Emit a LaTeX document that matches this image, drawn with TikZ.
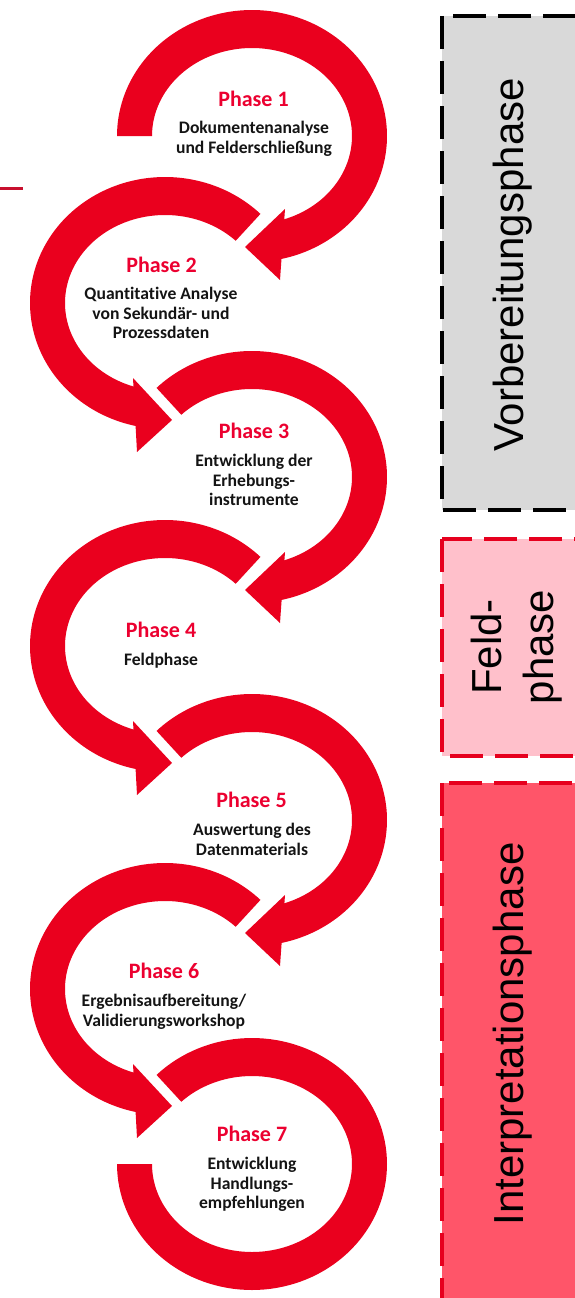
\documentclass[tikz,border=0pt]{standalone}
\usepackage{fontspec}
\newfontfamily\calib[Ligatures=NoCommon]{Carlito}
\newfontfamily\arialf{Liberation Sans}
\definecolor{ringred}{RGB}{234,0,30}
\definecolor{phasered}{RGB}{236,0,48}
\definecolor{bodyblack}{RGB}{20,20,20}
\definecolor{boxgray}{RGB}{217,217,217}
\definecolor{boxpink}{RGB}{255,192,203}
\definecolor{boxrose}{RGB}{255,85,105}
\definecolor{borderred}{RGB}{230,0,30}
\definecolor{linered}{RGB}{200,16,46}
% ring segment: cx, cy, start angle, outer end angle, inner end angle (y axis points down)
\newcommand{\ringseg}[5]{%
  \fill[ringred] plot[domain=#3:#4,samples=120,variable=\t] ({#1+135*cos(\t)},{#2+126*sin(\t)})
    -- plot[domain=#5:#3,samples=120,variable=\t] ({#1+100*cos(\t)},{#2+88*sin(\t)}) -- cycle;}
\newcommand{\ahead}[6]{\fill[ringred] (#1,#2) -- (#3,#4) -- (#5,#6) -- cycle;}
\begin{document}
\begin{tikzpicture}[x=1pt,y=-1pt,
  phaselbl/.style={font=\calib\bfseries\fontsize{22}{26}\selectfont, text=phasered, inner sep=0pt, anchor=base},
  bodytxt/.style={font=\calib\bfseries\fontsize{17.6}{19.5}\selectfont, text=bodyblack, inner sep=0pt, anchor=north, align=center},
  phasebox/.style={line width=3.2pt, dash pattern=on 33pt off 12pt},
  boxlbl/.style={font=\arialf\fontsize{42}{52}\selectfont, text=black, rotate=90, inner sep=0pt, align=center}]
\useasboundingbox (0,0) rectangle (574,1298);
\fill[white] (0,0) rectangle (574,1298);

% right-hand phase boxes
\fill[boxgray] (442,16) rectangle (600,510);
\draw[phasebox, black] (442,16) -- (442,510) -- (600,510) -- (600,16) -- cycle;
\fill[boxpink] (442,539) rectangle (600,756);
\draw[phasebox, borderred] (442,539) -- (442,756) -- (600,756) -- (600,539) -- cycle;
\fill[boxrose] (442,783) rectangle (600,1320);
\draw[phasebox, borderred] (442,783) -- (442,1320) -- (600,1320) -- (600,783) -- cycle;
\node[boxlbl] (vorb) at (513,265) {Vorbereitungsphase};
\node[boxlbl] (feld) at (517,647) {Feld-\\phase};
\node[boxlbl] (interp) at (513,1034) {Interpretationsphase};

% small red line at the left
\draw[linered, line width=2.7pt] (0,188.3) -- (22.7,188.3);

% rings
\ringseg{252}{136}{-180}{80}{76}
\ringseg{165}{303}{-45}{-260}{-256}
\ringseg{252}{477}{-135}{80}{76}
\ringseg{165}{646}{-45}{-260}{-256}
\ringseg{252}{820}{-135}{80}{76}
\ringseg{165}{989}{-45}{-260}{-256}
\ringseg{252}{1164}{-135}{180}{180}

% arrow heads
\ahead{245}{247}{285}{209}{280}{280}
\ahead{172}{420}{133}{378}{137}{452}
\ahead{245}{590}{285}{552}{280}{623}
\ahead{172}{763}{133}{721}{137}{795}
\ahead{245}{933}{285}{895}{280}{966}
\ahead{172}{1106}{133}{1064}{137}{1138}

% texts
\node[phaselbl] (p1) at (253.5,106) {Phase 1};
\node[bodytxt] (t1) at (254,121) {Dokumentenanalyse\\und Felderschließung};
\node[phaselbl] (p2) at (161.5,272) {Phase 2};
\node[bodytxt] (t2) at (161,287) {Quantitative Analyse\\von Sekundär- und\\Prozessdaten};
\node[phaselbl] (p3) at (254,438) {Phase 3};
\node[bodytxt] (t3) at (254,454) {Entwicklung der\\Erhebungs-\\instrumente};
\node[phaselbl] (p4) at (161,637) {Phase 4};
\node[bodytxt] (t4) at (161,653) {Feldphase};
\node[phaselbl] (p5) at (251.5,807) {Phase 5};
\node[bodytxt] (t5) at (252,823) {Auswertung des\\Datenmaterials};
\node[phaselbl] (p6) at (164,978) {Phase 6};
\node[bodytxt] (t6) at (164,994) {Ergebnisaufbereitung/\\Validierungsworkshop};
\node[phaselbl] (p7) at (252,1141) {Phase 7};
\node[bodytxt] (t7) at (252,1157) {Entwicklung\\Handlungs-\\empfehlungen};
\end{tikzpicture}
\end{document}
